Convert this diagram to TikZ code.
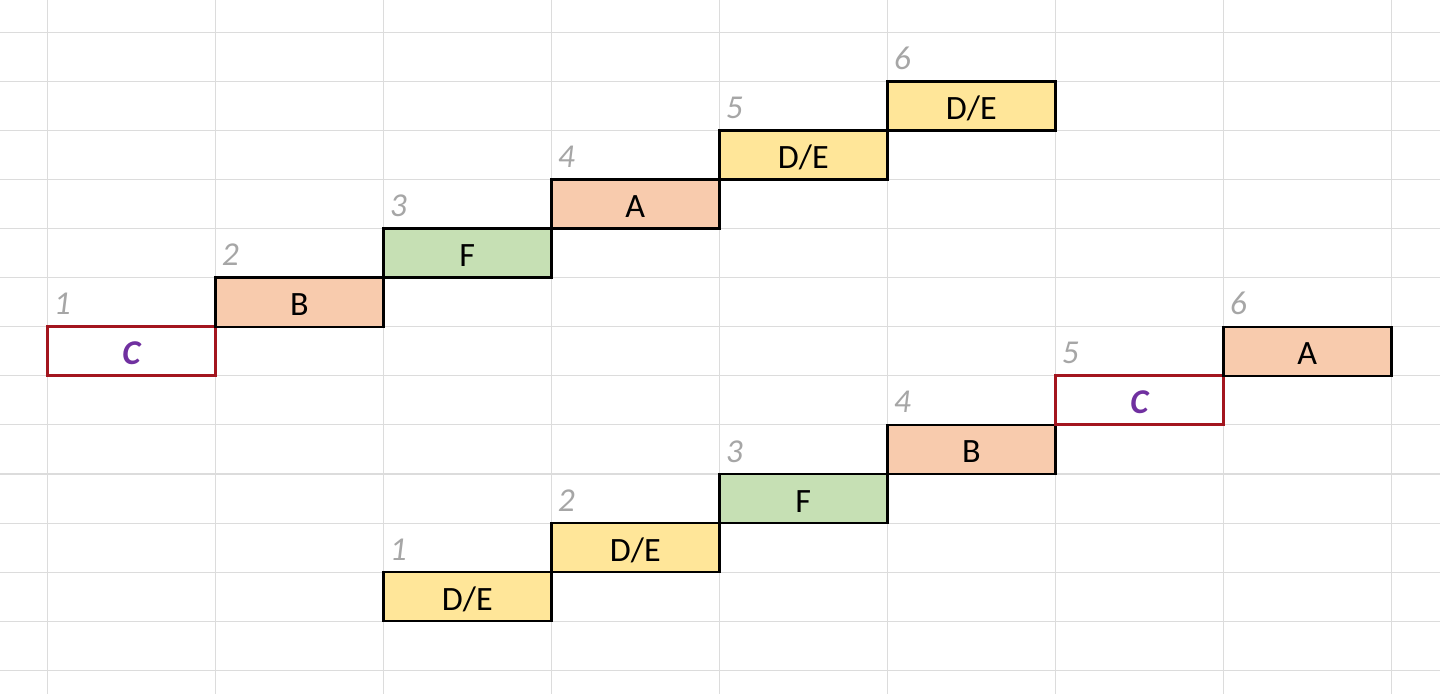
\documentclass[tikz,border=0pt]{standalone}
\usepackage{fontspec}
\setmainfont{Carlito}
\definecolor{peach}{HTML}{F8CBAD}
\definecolor{leaf}{HTML}{C6E0B4}
\definecolor{gold}{HTML}{FFE699}
\definecolor{cellline}{HTML}{DCDCDC}
\definecolor{numgray}{HTML}{A6A6A6}
\definecolor{darkred}{HTML}{A3161F}
\definecolor{plum}{HTML}{7030A0}
\begin{document}
\begin{tikzpicture}[x=1.68cm, y=-0.4908cm,
    cell/.style = {draw, line width=0.7pt, rectangle, minimum width=1.68cm, minimum height=0.4908cm,
        inner sep=0pt, outer sep=0pt, text height=0.27cm, text depth=0pt, font=\fontsize{9.7}{10}\selectfont},
    pick/.style = {cell, draw=darkred, line width=0.85pt, fill=white, text=plum, font=\fontsize{9.9}{10}\selectfont\bfseries\itshape},
    num/.style = {anchor=base west, inner sep=0pt, text=numgray, font=\fontsize{9.5}{10}\selectfont\itshape}]
        \useasboundingbox (-0.2815,-0.6581) rectangle (8.2899,13.4821);
        \fill[white] (-0.2815,-0.6581) rectangle (8.2899,13.4821);

        % sheet grid
        \foreach \i in {0,...,8}
            \draw[cellline, line width=0.3pt] (\i,-0.6581) -- (\i,13.4821);
        \foreach \j in {0,...,13}
            \draw[cellline, line width=0.3pt] (-0.2815,\j) -- (8.2899,\j);

        % upper sequence
        \node[pick] (t1) at (0.5, 6.5) {C};
        \node[cell, fill=peach] (t2) at (1.5, 5.5) {B};
        \node[cell, fill=leaf] (t3) at (2.5, 4.5) {F};
        \node[cell, fill=peach] (t4) at (3.5, 3.5) {A};
        \node[cell, fill=gold] (t5) at (4.5, 2.5) {D/E};
        \node[cell, fill=gold] (t6) at (5.5, 1.5) {D/E};

        % lower sequence
        \node[cell, fill=gold] (b1) at (2.5, 11.5) {D/E};
        \node[cell, fill=gold] (b2) at (3.5, 10.5) {D/E};
        \node[cell, fill=leaf] (b3) at (4.5, 9.5) {F};
        \node[cell, fill=peach] (b4) at (5.5, 8.5) {B};
        \node[pick] (b5) at (6.5, 7.5) {C};
        \node[cell, fill=peach] (b6) at (7.5, 6.5) {A};

        % step numbers
        \node[num] (t1n) at ([shift={(0.06cm,0.12cm)}]t1.north west) {1};
        \node[num] (t2n) at ([shift={(0.06cm,0.12cm)}]t2.north west) {2};
        \node[num] (t3n) at ([shift={(0.06cm,0.12cm)}]t3.north west) {3};
        \node[num] (t4n) at ([shift={(0.06cm,0.12cm)}]t4.north west) {4};
        \node[num] (t5n) at ([shift={(0.06cm,0.12cm)}]t5.north west) {5};
        \node[num] (t6n) at ([shift={(0.06cm,0.12cm)}]t6.north west) {6};
        \node[num] (b1n) at ([shift={(0.06cm,0.12cm)}]b1.north west) {1};
        \node[num] (b2n) at ([shift={(0.06cm,0.12cm)}]b2.north west) {2};
        \node[num] (b3n) at ([shift={(0.06cm,0.12cm)}]b3.north west) {3};
        \node[num] (b4n) at ([shift={(0.06cm,0.12cm)}]b4.north west) {4};
        \node[num] (b5n) at ([shift={(0.06cm,0.12cm)}]b5.north west) {5};
        \node[num] (b6n) at ([shift={(0.06cm,0.12cm)}]b6.north west) {6};
    \end{tikzpicture}
\end{document}
